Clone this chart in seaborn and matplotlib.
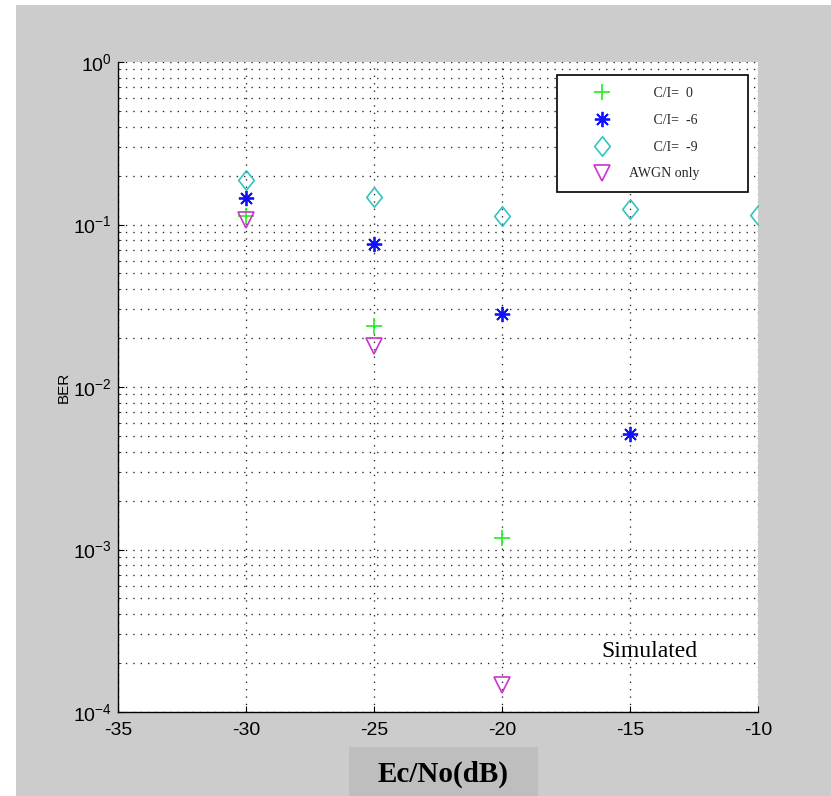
import numpy as np
import pandas as pd
import matplotlib
matplotlib.use("Agg")
import matplotlib.pyplot as plt
import seaborn as sns
from matplotlib.patches import Rectangle
from matplotlib.path import Path
from matplotlib.ticker import LogLocator, NullFormatter

sns.set_theme(style="white")
plt.rcParams['font.family'] = ['Liberation Sans', 'DejaVu Sans']
plt.rcParams['axes.unicode_minus'] = False

# ---- data ----
ecno_ci0 = [-30, -25, -20]
ber_ci0 = [0.113, 0.0238, 0.00117]
ecno_ci6 = [-30, -25, -20, -15]
ber_ci6 = [0.146, 0.0755, 0.0281, 0.00515]
ecno_ci9 = [-30, -25, -20, -15, -10]
ber_ci9 = [0.188, 0.148, 0.113, 0.124, 0.114]
ecno_awgn = [-30, -25, -20]
ber_awgn = [0.106, 0.0180, 0.000147]
labels = ["       C/I=  0", "       C/I=  -6", "       C/I=  -9", "AWGN only"]
xticks = [-35, -30, -25, -20, -15, -10]

W, H = 831, 796
fig = plt.figure(figsize=(W / 100, H / 100), dpi=100)
fig.patch.set_facecolor("white")
fig.patches.append(Rectangle((16 / W, 0), 1 - 16 / W, 1 - 5 / H, transform=fig.transFigure,
                             facecolor="#cccccc", edgecolor="none", zorder=-10))
fig.patches.append(Rectangle((349 / W, 0), (538 - 349) / W, (796 - 747) / H, transform=fig.transFigure,
                             facecolor="#bebebe", edgecolor="none", zorder=-9))

ax = fig.add_axes([118 / W, 1 - 712 / H, (758 - 118) / W, (712 - 62) / H])
ax.set_facecolor("white")

diamond = Path([(0, 1), (0.8, 0), (0, -1), (-0.8, 0), (0, 1)],
               [Path.MOVETO, Path.LINETO, Path.LINETO, Path.LINETO, Path.CLOSEPOLY])

c0, c6, c9, cA = "#22ee22", "#1010ff", "#33c4c4", "#cc33cc"
series = [
    (ecno_ci0, ber_ci0, dict(marker="+", color=c0, markeredgecolor=c0, markersize=12, markeredgewidth=1.2)),
    (ecno_ci6, ber_ci6, dict(marker=(8, 2, 0), color=c6, markeredgecolor=c6, markersize=11,
                             markeredgewidth=1.3)),
    (ecno_ci9, ber_ci9, dict(marker=diamond, color=c9, markeredgecolor=c9, markersize=14, markeredgewidth=1.2,
                             markerfacecolor="none")),
    (ecno_awgn, ber_awgn, dict(marker="v", color=cA, markeredgecolor=cA, markersize=11, markeredgewidth=1.2,
                               markerfacecolor="none")),
]
for (xs, ys, kw), lab in zip(series, labels):
    df = pd.DataFrame({"x": xs, "y": ys})
    sns.lineplot(data=df, x="x", y="y", ax=ax, linestyle="", label=lab, legend=False, zorder=3, **kw)

ax.set_yscale("log")
ax.set_xlim(-35, -10)
ax.set_ylim(1e-4, 1)
ax.set_xticks(xticks)
ax.set_xticklabels([str(t) for t in xticks])
ax.yaxis.set_major_locator(LogLocator(base=10, numticks=10))
ax.yaxis.set_minor_locator(LogLocator(base=10, subs=np.arange(2, 10), numticks=20))
ax.yaxis.set_minor_formatter(NullFormatter())

grid_kw = dict(color="#222222", linewidth=0.95, linestyle=(0, (1, 4.6)))
ax.grid(True, which="major", axis="both", **grid_kw)
ax.grid(True, which="minor", axis="y", **grid_kw)
ax.set_axisbelow(True)

for s in ["top", "right"]:
    ax.spines[s].set_visible(False)
for s in ["left", "bottom"]:
    ax.spines[s].set_color("black")
    ax.spines[s].set_linewidth(1.0)

ax.tick_params(axis="both", which="major", direction="in", length=4, width=0.8,
               labelsize=14, colors="black", left=True, bottom=True)
ax.tick_params(axis="x", which="major", pad=7)
ax.tick_params(axis="y", which="major", pad=4.5)
ax.tick_params(axis="y", which="minor", direction="in", length=2, width=0.6, left=True)

ax.set_xlabel("")
ax.set_ylabel("BER", fontsize=11, color="black")
ax.yaxis.set_label_coords((71 - 118) / 640, 0.5)

fig.text(443 / W, 1 - 774 / H, "Ec/No(dB)", ha="center", va="center",
         family=["Liberation Serif", "DejaVu Serif"], fontweight="bold", fontsize=21, color="black")
ax.text((601 - 118) / 640, 1 - (657 - 62) / 650, "Simulated", transform=ax.transAxes,
        ha="left", va="baseline", family=["Liberation Serif", "DejaVu Serif"], fontsize=17, color="black")

leg = ax.legend(loc="upper left", bbox_to_anchor=((557 - 118) / 640, 0, (748 - 557) / 640, 1 - 13 / 650),
                mode="expand", frameon=True, fancybox=False, borderaxespad=0,
                prop={"family": ["Liberation Serif", "DejaVu Serif"], "size": 10},
                borderpad=0.85, handlelength=4.8, handletextpad=-0.47, labelspacing=1.0,
                numpoints=1)
leg.get_frame().set_edgecolor("black")
leg.get_frame().set_linewidth(1.2)
leg.get_frame().set_facecolor("white")
leg.get_frame().set_alpha(1)
leg.set_zorder(5)

fig.savefig("out.png", dpi=100, facecolor=fig.get_facecolor())
